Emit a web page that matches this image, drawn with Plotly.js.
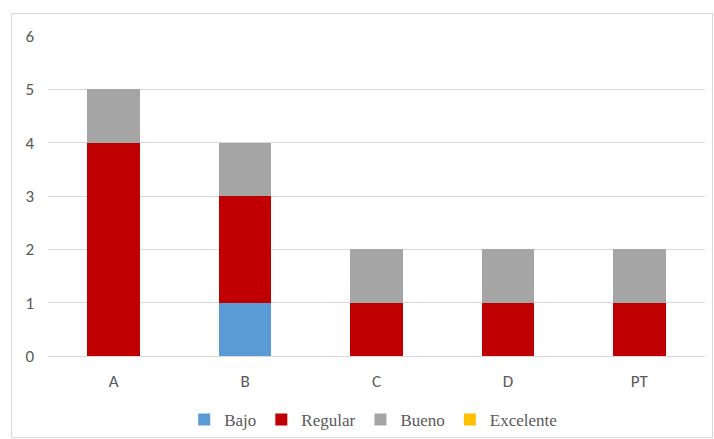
<!DOCTYPE html>
<html>
<head>
<meta charset="utf-8">
<script src="https://cdn.plot.ly/plotly-3.0.1.min.js"></script>
<style>
html,body{margin:0;padding:0;background:#fff;}
#frame{position:absolute;left:11px;top:13px;width:700px;height:423px;border:1px solid #d9d9d9;}
#chart{position:absolute;left:0;top:0;width:714px;height:439px;}
</style>
</head>
<body>
<div id="frame"></div>
<div id="chart"></div>
<script>
const categories = ["A", "B", "C", "D", "PT"];
const bajo = [0, 1, 0, 0, 0];
const regular = [4, 2, 1, 1, 1];
const bueno = [1, 1, 1, 1, 1];
const excelente = [0, 0, 0, 0, 0];
const yTicks = [0, 1, 2, 3, 4, 5, 6];

const mk = (name, y, color) => ({type: "bar", name: name, x: categories, y: y, marker: {color: color}, hoverinfo: "y"});
const data = [
  mk("Bajo", bajo, "#5b9bd5"),
  mk("Regular", regular, "#c00000"),
  mk("Bueno", bueno, "#a5a5a5"),
  mk("Excelente", excelente, "#ffc000")
];
const layout = {
  width: 714, height: 439,
  paper_bgcolor: "rgba(0,0,0,0)", plot_bgcolor: "rgba(0,0,0,0)",
  margin: {l: 48, r: 9, t: 36, b: 83, autoexpand: false},
  barmode: "stack", bargap: 0.6,
  font: {family: "Carlito, 'Liberation Sans', sans-serif", size: 17, color: "#595959"},
  xaxis: {showgrid: false, showline: false, zeroline: false, ticks: "", ticklabelstandoff: 13},
  yaxis: {range: [0, 6], tickvals: yTicks, showgrid: true, gridcolor: "#d9d9d9", gridwidth: 1, zeroline: true, zerolinecolor: "#d9d9d9", zerolinewidth: 1, showline: false, ticks: "", ticklabelstandoff: 13},
  showlegend: true,
  legend: {orientation: "h", x: 0.495, xanchor: "center", y: -0.2, yanchor: "middle", font: {family: "'Liberation Serif', serif", size: 17, color: "#595959"}, itemwidth: 30, traceorder: "normal"}
};
Plotly.newPlot("chart", data, layout, {displayModeBar: false, staticPlot: true});
</script>
</body>
</html>
